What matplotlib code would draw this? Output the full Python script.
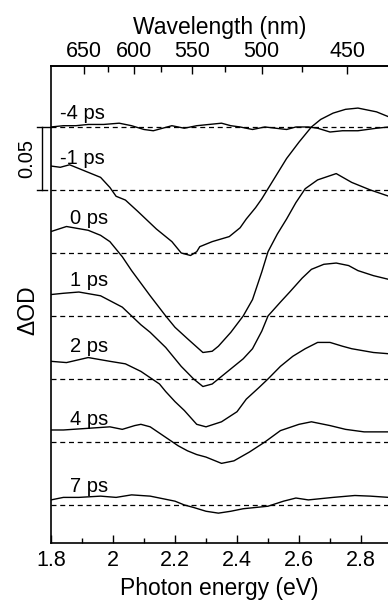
# transient absorption spectra, stacked with 0.05 offset

import numpy as np
import matplotlib.pyplot as plt

plt.rcParams['font.family'] = ['Liberation Sans', 'DejaVu Sans']

delays = ['-4 ps', '-1 ps', '0 ps', '1 ps', '2 ps', '4 ps', '7 ps']

# photon energy (eV) and dOD for every delay
e_m4 = [1.80, 1.84, 1.88, 1.92, 1.97, 2.02, 2.06, 2.10, 2.13, 2.16, 2.19, 2.23, 2.27, 2.31,
        2.35, 2.38, 2.41, 2.45, 2.49, 2.56, 2.59, 2.63, 2.66, 2.70, 2.74, 2.79, 2.85, 2.89]
od_m4 = [0.000, 0.001, 0.001, 0.002, 0.002, 0.003, 0.001, -0.002, -0.003, -0.001, 0.001, -0.001, 0.001, 0.002,
         0.003, 0.001, 0.000, -0.002, 0.000, -0.002, 0.000, 0.000, -0.001, -0.004, -0.003, -0.003, -0.001, 0.000]

e_m1 = [1.80, 1.83, 1.86, 1.91, 1.96, 1.99, 2.01, 2.04, 2.08, 2.11, 2.14, 2.17, 2.19, 2.22, 2.25, 2.27, 2.28,
        2.32, 2.375, 2.41, 2.43, 2.46, 2.48, 2.52, 2.56, 2.60, 2.64, 2.67, 2.71, 2.75, 2.79, 2.85, 2.89]
od_m1 = [0.019, 0.018, 0.020, 0.015, 0.010, 0.002, -0.005, -0.008, -0.017, -0.024, -0.031, -0.037, -0.041, -0.050, -0.052, -0.049, -0.045,
         -0.041, -0.037, -0.030, -0.023, -0.014, -0.007, 0.009, 0.025, 0.038, 0.050, 0.056, 0.061, 0.064, 0.065, 0.062, 0.058]

e_0 = [1.80, 1.85, 1.92, 1.96, 1.99, 2.03, 2.06, 2.09, 2.12, 2.17, 2.20, 2.24, 2.29, 2.32, 2.34, 2.38, 2.42, 2.45,
       2.48, 2.50, 2.53, 2.56, 2.59, 2.62, 2.66, 2.72, 2.77, 2.83, 2.89]
od_0 = [0.017, 0.021, 0.018, 0.014, 0.009, -0.003, -0.014, -0.024, -0.034, -0.050, -0.059, -0.068, -0.079, -0.078, -0.074, -0.063, -0.050, -0.037,
        -0.015, 0.001, 0.015, 0.027, 0.040, 0.051, 0.058, 0.063, 0.056, 0.050, 0.045]

e_1 = [1.80, 1.84, 1.89, 1.96, 2.03, 2.06, 2.09, 2.12, 2.17, 2.22, 2.26, 2.29, 2.32, 2.34, 2.38, 2.42, 2.45,
       2.48, 2.50, 2.54, 2.57, 2.61, 2.64, 2.68, 2.72, 2.76, 2.79, 2.84, 2.89]
od_1 = [0.017, 0.018, 0.019, 0.016, 0.007, 0.000, -0.007, -0.013, -0.025, -0.040, -0.050, -0.056, -0.054, -0.050, -0.042, -0.034, -0.026,
        -0.012, 0.000, 0.011, 0.019, 0.030, 0.037, 0.041, 0.042, 0.040, 0.036, 0.032, 0.029]

e_2 = [1.80, 1.85, 1.92, 1.99, 2.04, 2.09, 2.12, 2.15, 2.17, 2.20, 2.23, 2.27, 2.30, 2.35, 2.40, 2.43, 2.47,
       2.50, 2.54, 2.58, 2.62, 2.66, 2.70, 2.74, 2.77, 2.84, 2.89]
od_2 = [0.014, 0.013, 0.017, 0.014, 0.012, 0.006, 0.001, -0.004, -0.010, -0.018, -0.025, -0.036, -0.038, -0.034, -0.026, -0.016, -0.007,
        0.000, 0.010, 0.018, 0.024, 0.029, 0.029, 0.026, 0.024, 0.021, 0.020]

e_4 = [1.80, 1.84, 1.87, 1.93, 1.99, 2.03, 2.07, 2.09, 2.12, 2.15, 2.18, 2.21, 2.24, 2.27,
       2.30, 2.34, 2.35, 2.39, 2.44, 2.49, 2.54, 2.60, 2.64, 2.70, 2.75, 2.81, 2.89]
od_4 = [0.0095, 0.0095, 0.010, 0.011, 0.012, 0.010, 0.013, 0.014, 0.012, 0.007, 0.002, -0.003, -0.007, -0.010,
        -0.012, -0.016, -0.017, -0.015, -0.008, 0.000, 0.009, 0.014, 0.016, 0.013, 0.010, 0.008, 0.008]

e_7 = [1.80, 1.84, 1.89, 1.96, 2.01, 2.06, 2.12, 2.15, 2.20, 2.23, 2.26, 2.30, 2.34, 2.38,
       2.42, 2.50, 2.55, 2.59, 2.63, 2.71, 2.78, 2.83, 2.89]
od_7 = [0.004, 0.006, 0.006, 0.007, 0.006, 0.008, 0.007, 0.0055, 0.003, 0.000, -0.002, -0.005, -0.0065, -0.005,
        -0.003, -0.001, 0.003, 0.0055, 0.004, 0.006, 0.0075, 0.007, 0.006]

energies = [e_m4, e_m1, e_0, e_1, e_2, e_4, e_7]
spectra = [od_m4, od_m1, od_0, od_1, od_2, od_4, od_7]

wl_major = [650, 600, 550, 500, 450]
wl_minor = [625, 575, 525, 475]

step = 0.05
label_dy = [0.0105, 0.025, 0.027, 0.028, 0.026, 0.018, 0.015]

fig = plt.figure(figsize=(3.88, 6.01), dpi=100)
ax = fig.add_axes([0.1314, 0.0965, 0.8686, 0.7937])

n = len(delays)
for i in range(n):
    off = (n - 1 - i) * step
    ax.axhline(off, color='black', ls=(0, (4, 3)), lw=0.9)
    ax.plot(energies[i], np.array(spectra[i]) + off, color='black', lw=1.0)
    lx = 1.829 if i < 2 else 1.861
    ax.text(lx, off + label_dy[i], delays[i], fontsize=14.5, va='center', ha='left')

ax.set_xlim(1.8, 2.887)
ax.set_ylim(-0.0302, 0.3484)

ax.set_xticks(np.arange(1.8, 2.81, 0.2))
ax.set_xticklabels(['1.8', '2', '2.2', '2.4', '2.6', '2.8'])
ax.set_xticks(np.arange(1.9, 2.81, 0.2), minor=True)
ax.tick_params(axis='x', which='major', direction='in', length=6, width=1, labelsize=15.5, pad=5)
ax.tick_params(axis='x', which='minor', direction='in', length=3.5, width=1)
ax.set_yticks([])
ax.spines['right'].set_visible(False)
for s in ['left', 'top', 'bottom']:
    ax.spines[s].set_linewidth(1.2)

ax.set_xlabel('Photon energy (eV)', fontsize=16.5, labelpad=4)
ax.text(-0.068, 0.488, 'ΔOD', rotation=90, fontsize=16.5, ha='center', va='center',
        transform=ax.transAxes)

top = ax.secondary_xaxis('top', functions=(lambda x: 1239.84 / x, lambda x: 1239.84 / x))
top.set_xticks(wl_major)
top.set_xticks(wl_minor, minor=True)
top.tick_params(axis='x', which='major', direction='in', length=6, width=1, labelsize=15.5, pad=3)
top.tick_params(axis='x', which='minor', direction='in', length=4, width=1)
top.spines['top'].set_linewidth(1.2)
top.set_xlabel('Wavelength (nm)', fontsize=16.5, labelpad=5)

# scale bar for 0.05
sx = 1.771
ax.plot([sx, sx], [5 * step, 6 * step], color='black', lw=1.0, clip_on=False)
ax.plot([sx - 0.016, 1.8], [6 * step, 6 * step], color='black', lw=1.0, clip_on=False)
ax.plot([sx - 0.016, sx + 0.016], [5 * step, 5 * step], color='black', lw=1.0, clip_on=False)
ax.text(1.723, 5.5 * step, '0.05', rotation=90, fontsize=14.5, ha='center', va='center')

fig.savefig('out.png', dpi=100)
